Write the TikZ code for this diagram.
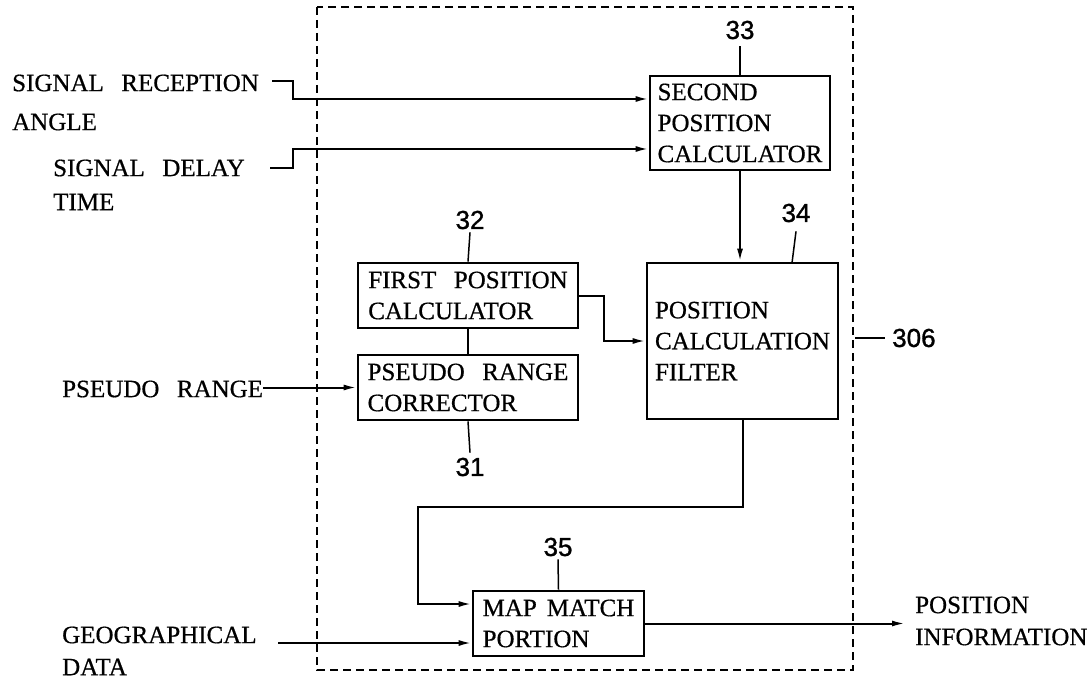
\documentclass[tikz,border=0pt]{standalone}
\usepackage{fontspec}
\setmainfont{Liberation Serif}[WordSpace=2.8,FakeBold=0.6]
\newfontfamily\numfont{Liberation Sans}[FakeBold=1.2]
\usetikzlibrary{arrows.meta}
\begin{document}
\begin{tikzpicture}[x=1pt,y=-1pt,
  box/.style={draw,line width=2.8pt,align=left,inner sep=0pt,font=\fontsize{25}{31}\selectfont},
  lbl/.style={inner sep=0pt,anchor=west,font=\fontsize{25}{30}\selectfont},
  num/.style={inner sep=0pt,font=\numfont\fontsize{26}{30}\selectfont},
  conn/.style={line width=2pt},
  lead/.style={line width=1.5pt},
  arr/.style={conn,-{Latex[length=13pt,width=6pt]}},
  frame/.style={line width=1.6pt,dash pattern=on 8pt off 5pt}]
\useasboundingbox (0,0) rectangle (1092,679);

% dashed enclosure 306
\draw[frame] (317,7) rectangle (853,670);

% blocks
\node[box,minimum width=180pt,minimum height=94pt] (b33) at (740,123) {SECOND\\POSITION\\CALCULATOR};
\node[box,minimum width=220pt,minimum height=65pt] (b32) at (468,295.5) {FIRST POSITION\\CALCULATOR};
\node[box,minimum width=220pt,minimum height=65pt] (b31) at (468,387.5) {PSEUDO RANGE\\CORRECTOR};
\node[box,minimum width=191pt,minimum height=156pt] (b34) at (742.5,341) {POSITION\\CALCULATION\\FILTER};
\node[box,minimum width=171pt,minimum height=65pt] (b35) at (558.5,623.5) {MAP\hspace{10pt}MATCH\\PORTION};

% outside labels
\node[lbl] (sr) at (12,83) {SIGNAL RECEPTION};
\node[lbl] (sra) at (12,122) {ANGLE};
\node[lbl] (sd) at (53,168) {SIGNAL DELAY};
\node[lbl] (sdt) at (53,202) {TIME};
\node[lbl] (pr) at (62,389) {PSEUDO RANGE};
\node[lbl] (geo) at (62,635) {GEOGRAPHICAL};
\node[lbl] (geod) at (62,667) {DATA};
\node[lbl] (pos) at (915,605) {POSITION};
\node[lbl] (posi) at (915,637) {INFORMATION};

% reference numerals
\node[num] (n33) at (740,30) {33};
\node[num] (n32) at (470,220) {32};
\node[num] (n31) at (470,467) {31};
\node[num] (n34) at (796,213) {34};
\node[num] (n35) at (558,547) {35};
\node[num,anchor=west] (n306) at (892,338) {306};

% free ends
\coordinate (srS) at (272,81);
\coordinate (srK) at (293,81);
\coordinate (sdS) at (270,168);
\coordinate (sdK) at (293,168);
\coordinate (geoS) at (278,643);
\coordinate (outE) at (905,622);
\coordinate (loopA) at (418,507);
\coordinate (t34) at (792,263);
\coordinate (f306) at (855,338);

% connectors
\draw[arr] (srS) -- (srK) |- ([yshift=24pt]b33.west);
\draw[arr] (sdS) -- (sdK) |- ([yshift=-26pt]b33.west);
\draw[arr] (pr.east |- b31.west) -- (b31.west);
\draw[conn] (b32.south) -- (b31.north);
\draw[arr] (b32.east) -- ++(25,0) |- (b34.west);
\draw[arr] (b33.south) -- (b33.south |- b34.north);
\draw[arr] (b34.south) |- (loopA) |- ([yshift=19.5pt]b35.west);
\draw[arr] (geoS) -- (geoS -| b35.west);
\draw[arr] (b35.east) -- (outE |- b35.east);

% leader lines
\draw[lead] ([yshift=-7pt]n33.south) -- (b33.north);
\draw[lead] ([yshift=-3pt]n32.south) -- (b32.north);
\draw[lead] (b31.south) -- ([yshift=5pt]n31.north);
\draw[lead] ([yshift=-9pt]n34.south) -- (t34);
\draw[lead] ([yshift=-3pt]n35.south) -- (b35.north);
\draw[lead] (f306) -- ([xshift=-7pt]n306.west);
\end{tikzpicture}
\end{document}
